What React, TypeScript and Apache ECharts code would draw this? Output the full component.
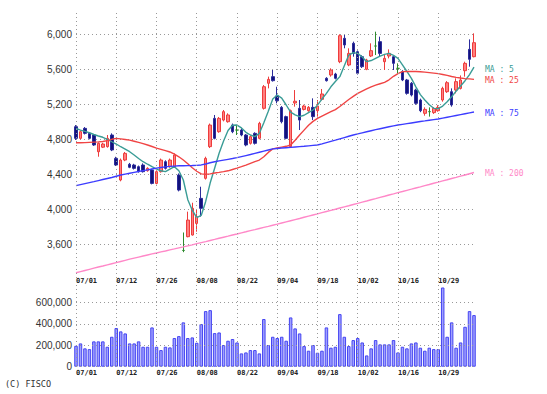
import React, { useEffect, useRef } from "react";
import * as echarts from "echarts";

const dates = [
  "07/01","07/02","07/03","07/04","07/05","07/08","07/09","07/10","07/11","07/12",
  "07/16","07/17","07/18","07/19","07/22","07/23","07/24","07/25","07/26","07/29",
  "07/30","07/31","08/01","08/02","08/05","08/06","08/07","08/08","08/09","08/13",
  "08/14","08/15","08/16","08/19","08/20","08/21","08/22","08/23","08/26","08/27",
  "08/28","08/29","08/30","09/02","09/03","09/04","09/05","09/06","09/09","09/10",
  "09/11","09/12","09/13","09/17","09/18","09/19","09/20","09/24","09/25","09/26",
  "09/27","09/30","10/01","10/02","10/03","10/04","10/07","10/08","10/09","10/10",
  "10/11","10/15","10/16","10/17","10/18","10/21","10/22","10/23","10/24","10/25",
  "10/28","10/29","10/30","10/31","11/01","11/05","11/06","11/07","11/08","11/11"
];

const opens = [
  4944,4811,4925,4868,4849,4658,4710,4716,4849,4582,
  4335,4563,4514,4506,4487,4506,4441,4449,4296,4430,
  4544,4487,4487,4392,3530,3687,3706,3839,4125,4354,
  4716,5039,4887,5020,5001,4963,4906,4906,4849,4754,
  4868,4811,5154,5440,5516,5295,5165,5059,4716,5215,
  5154,5142,5127,5165,5127,5257,5497,5535,5546,5687,
  5954,5649,5897,5801,5744,5600,5752,5866,5916,5687,
  5752,5744,5611,5573,5478,5440,5363,5249,5097,5116,
  5105,5127,5249,5344,5344,5363,5382,5584,5828,5744
];
const closes = [
  4811,4887,4868,4811,4735,4754,4746,4811,4678,4506,
  4563,4639,4480,4468,4430,4430,4468,4296,4430,4563,
  4468,4563,4620,4220,3530,3877,4011,3916,4011,4582,
  4963,4811,5039,5116,5078,4887,4906,4849,4735,4830,
  4754,4982,5401,5485,5470,5240,5001,4811,5127,5235,
  5020,5180,5165,5059,5180,5318,5470,5592,5497,5984,
  5878,5782,5782,5554,5630,5706,5813,5866,5782,5725,
  5782,5668,5611,5478,5325,5306,5211,5127,5142,5116,
  5154,5165,5382,5447,5192,5459,5478,5668,5714,5904
];
const lows = [
  4792,4800,4855,4800,4725,4601,4700,4705,4665,4495,
  4320,4550,4470,4455,4420,4420,4430,4285,4285,4420,
  4455,4475,4475,4205,3510,3680,3700,3744,3916,4340,
  4700,4800,4875,5005,4990,4870,4849,4835,4720,4740,
  4740,4800,5140,5382,5460,5211,4982,4800,4700,5173,
  4906,5130,5115,5020,5059,5245,5460,5516,5485,5670,
  5840,5635,5744,5540,5615,5590,5740,5763,5744,5592,
  5725,5592,5554,5465,5310,5290,5195,5110,5070,5059,
  5090,5115,5230,5330,5173,5325,5370,5516,5630,5737
];
const highs = [
  4963,4900,4940,4880,4860,4765,4760,4849,4868,4600,
  4580,4655,4530,4520,4500,4525,4480,4465,4445,4580,
  4560,4580,4639,4410,3735,3973,4075,3992,4258,4601,
  4980,5078,5055,5135,5097,4980,4963,4925,4860,4845,
  4880,5000,5420,5516,5592,5401,5180,5070,5140,5363,
  5249,5195,5180,5268,5249,5375,5510,5611,5560,6000,
  5992,5840,5916,5815,5760,5720,5897,6030,5973,5763,
  5828,5763,5668,5590,5490,5455,5378,5265,5165,5165,
  5165,5190,5401,5465,5382,5497,5530,5687,5942,6011
];

const volumes = [
  195000,217000,171000,164000,236000,236000,236000,186000,279000,360000,
  329000,310000,217000,217000,236000,186000,186000,366000,186000,155000,
  186000,180000,267000,285000,413000,267000,273000,223000,397000,518000,
  527000,313000,319000,202000,242000,258000,226000,124000,133000,155000,
  155000,124000,444000,202000,279000,267000,279000,242000,459000,357000,
  310000,192000,149000,202000,130000,149000,366000,177000,186000,490000,
  279000,192000,248000,267000,226000,105000,171000,248000,208000,208000,
  208000,248000,133000,186000,171000,217000,226000,177000,149000,177000,
  164000,164000,738000,279000,413000,177000,226000,372000,518000,481000
];

const ma5 = [
  4925,4905,4890,4875,4855,4838,4823,4800,4772,4746,
  4715,4688,4658,4620,4580,4544,4515,4487,4460,4440,
  4430,4460,4487,4440,4335,4110,3990,3905,3930,4090,
  4300,4470,4640,4780,4900,4960,4963,4930,4880,4849,
  4830,4868,4990,5120,5260,5306,5270,5192,5110,5080,
  5059,5075,5105,5135,5190,5260,5325,5400,5460,5516,
  5640,5763,5790,5782,5740,5687,5700,5725,5750,5770,
  5782,5760,5725,5650,5575,5497,5400,5310,5249,5195,
  5154,5150,5180,5230,5287,5350,5410,5470,5540,5626
];
const ma25 = [
  4761,4760,4762,4765,4768,4770,4775,4785,4800,4811,
  4805,4798,4790,4778,4765,4750,4735,4718,4700,4685,
  4670,4655,4630,4600,4563,4520,4475,4435,4405,4400,
  4405,4415,4422,4430,4440,4455,4470,4487,4505,4525,
  4545,4563,4600,4650,4690,4700,4710,4720,4735,4790,
  4850,4905,4960,5005,5040,5065,5090,5115,5140,5175,
  5215,5255,5290,5325,5350,5375,5400,5420,5435,5450,
  5480,5520,5550,5573,5575,5576,5575,5572,5568,5562,
  5556,5550,5540,5530,5518,5508,5500,5494,5490,5485
];
const ma75 = [
  4270,4282,4294,4305,4316,4328,4340,4352,4364,4378,
  4392,4402,4412,4422,4432,4442,4451,4460,4470,4478,
  4485,4490,4494,4497,4498,4499,4500,4502,4507,4518,
  4532,4544,4553,4562,4571,4580,4590,4602,4614,4626,
  4639,4652,4665,4678,4690,4695,4700,4704,4708,4712,
  4716,4720,4725,4730,4735,4748,4762,4776,4790,4805,
  4820,4835,4849,4862,4874,4886,4898,4910,4921,4932,
  4943,4953,4963,4971,4979,4987,4995,5003,5010,5018,
  5025,5032,5042,5052,5062,5072,5082,5092,5102,5112
];
const ma200 = [
  3275,3288,3301,3314,3327,3340,3352,3365,3378,3391,
  3404,3417,3430,3442,3454,3466,3478,3490,3501,3513,
  3524,3536,3547,3559,3570,3582,3594,3607,3619,3631,
  3644,3656,3669,3681,3693,3706,3718,3731,3743,3756,
  3768,3781,3793,3805,3818,3830,3843,3856,3869,3882,
  3895,3909,3922,3935,3948,3962,3975,3988,4001,4015,
  4028,4041,4055,4068,4082,4095,4109,4122,4136,4149,
  4163,4176,4190,4203,4217,4230,4244,4257,4271,4284,
  4298,4311,4325,4338,4352,4365,4379,4392,4406,4420
];

const maLines = [
  { name: "MA : 5", data: ma5, color: "#3a9c96", offset: [0, 2] },
  { name: "MA : 25", data: ma25, color: "#f04444", offset: [0, 1] },
  { name: "MA : 75", data: ma75, color: "#3c3cff", offset: [0, 1] },
  { name: "MA : 200", data: ma200, color: "#ff88c8", offset: [0, 1] },
];

const MONO = '"DejaVu Sans Mono", monospace';
const SANS = '"Liberation Sans", Arial, sans-serif';

export default function App() {
  const ref = useRef<HTMLDivElement>(null);
  useEffect(() => {
    const chart = echarts.init(ref.current as HTMLDivElement, null, { renderer: "svg" });
    const dotted = { color: "#999999", width: 1, type: [1, 3] as any };
    const xLabel = {
      interval: 8,
      align: "left" as const,
      fontFamily: MONO,
      fontSize: 7,
      fontWeight: "bold" as const,
      color: "#222",
    };
    const yLabel = {
      fontFamily: SANS,
      fontSize: 10,
      color: "#333",
      margin: 4,
      formatter: (v: number) => v.toLocaleString("en-US"),
    };
    const candleData = dates.map((_, i) => [opens[i], closes[i], lows[i], highs[i]]);
    chart.setOption({
      animation: false,
      backgroundColor: "#ffffff",
      grid: [
        { left: 76, top: 34.3, width: 398, height: 210 },
        { left: 76, top: 302.3, width: 398, height: 64.4 },
        { left: 76, top: 13, width: 398, height: 354 },
      ],
      xAxis: [
        {
          type: "category", data: dates, gridIndex: 0, boundaryGap: false,
          axisLine: { show: false }, axisTick: { show: false }, splitLine: { show: false },
          axisLabel: { ...xLabel, margin: 33 },
        },
        {
          type: "category", data: dates, gridIndex: 1, boundaryGap: false,
          axisLine: { show: false }, axisTick: { show: false }, splitLine: { show: false },
          axisLabel: { ...xLabel, margin: 3 },
        },
        {
          type: "category", data: dates, gridIndex: 2, boundaryGap: false, z: 5,
          axisLine: { show: false }, axisTick: { show: false }, axisLabel: { show: false },
          splitLine: { show: true, interval: 8, lineStyle: dotted },
        },
      ],
      yAxis: [
        {
          type: "value", gridIndex: 0, min: 3600, max: 6000, interval: 400,
          axisLine: { show: false }, axisTick: { show: false },
          splitLine: { show: true, lineStyle: dotted }, axisLabel: yLabel,
        },
        {
          type: "value", gridIndex: 1, min: 0, max: 600000, interval: 200000, z: 5,
          axisLine: { show: false }, axisTick: { show: false },
          splitLine: { show: true, lineStyle: dotted }, axisLabel: yLabel,
        },
        { type: "value", gridIndex: 2, show: false, min: 0, max: 1 },
      ],
      series: [
        {
          type: "candlestick",
          xAxisIndex: 0, yAxisIndex: 0,
          data: candleData,
          barWidth: 3,
          clip: false,
          itemStyle: {
            color: "#ff8080",
            color0: "#12127a",
            borderColor: "#ee3c3c",
            borderColor0: "#2c2c9c",
            borderColorDoji: "#2e8b2e",
            borderWidth: 1,
          },
        },
        ...maLines.map((m) => ({
          type: "line",
          xAxisIndex: 0, yAxisIndex: 0,
          data: m.data,
          showSymbol: false,
          clip: false,
          lineStyle: { color: m.color, width: 1.4 },
          endLabel: {
            show: true,
            formatter: m.name,
            color: m.color,
            fontFamily: MONO,
            fontSize: 8,
            distance: 11,
            offset: m.offset,
          },
        })),
        {
          type: "bar",
          xAxisIndex: 1, yAxisIndex: 1,
          data: volumes,
          barWidth: 3.5,
          clip: false,
          itemStyle: { color: "#a0a0ff", borderColor: "#4545f2", borderWidth: 1 },
        },
      ],
      graphic: [
        {
          type: "text",
          left: 5,
          top: 379,
          style: { text: "(C) FISCO", font: '8.5px "DejaVu Sans Mono", monospace', fill: "#333" },
        },
      ],
    });
    return () => chart.dispose();
  }, []);
  return (
    <div
      ref={ref}
      style={{ position: "fixed", left: 0, top: 0, width: 547, height: 394, background: "#fff" }}
    />
  );
}
